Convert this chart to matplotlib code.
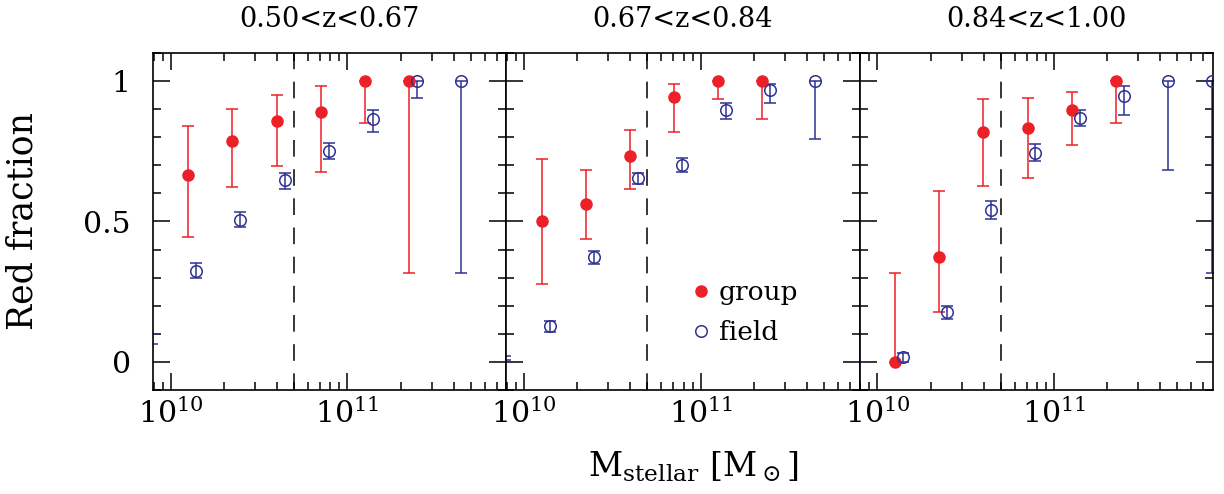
import numpy as np
import matplotlib
matplotlib.use('Agg')
from matplotlib import pyplot as plt
from matplotlib.ticker import MultipleLocator, NullFormatter, FixedLocator, FixedFormatter

plt.rcParams['font.family'] = ['DejaVu Serif']
plt.rcParams['mathtext.fontset'] = 'dejavuserif'
plt.rcParams['lines.scale_dashes'] = False

# redshift bins
z_labels = ['0.50<z<0.67', '0.67<z<0.84', '0.84<z<1.00']

# log10 stellar mass of the bins (group / field)
group_logm = [10.10, 10.35, 10.60, 10.85, 11.10, 11.35]
field_logm = [9.895, 10.145, 10.395, 10.645, 10.895, 11.145, 11.395, 11.645, 11.895]

# red fraction of group galaxies, with lower / upper error limits
group_frac = [
    [0.665, 0.786, 0.858, 0.891, 1.0, 1.0],
    [0.501, 0.564, 0.732, 0.942, 1.0, 1.0],
    [0.0, 0.375, 0.817, 0.834, 0.896, 1.0],
]
group_lo = [
    [0.445, 0.622, 0.699, 0.676, 0.849, 0.318],
    [0.279, 0.439, 0.616, 0.819, 0.935, 0.866],
    [0.0, 0.178, 0.626, 0.655, 0.771, 0.849],
]
group_hi = [
    [0.841, 0.899, 0.949, 0.981, 1.0, 1.0],
    [0.721, 0.683, 0.825, 0.989, 1.0, 1.0],
    [0.318, 0.609, 0.935, 0.940, 0.962, 1.0],
]

# red fraction of field galaxies (nan = empty bin)
field_frac = [
    [0.080, 0.324, 0.507, 0.647, 0.751, 0.864, 1.0, 1.0, np.nan],
    [0.014, 0.127, 0.372, 0.656, 0.700, 0.898, 0.967, 1.0, np.nan],
    [0.0, 0.018, 0.176, 0.541, 0.745, 0.870, 0.947, 1.0, 1.0],
]
field_lo = [
    [0.065, 0.298, 0.479, 0.616, 0.721, 0.817, 0.938, 0.318, np.nan],
    [0.006, 0.107, 0.348, 0.635, 0.675, 0.866, 0.923, 0.795, np.nan],
    [0.0, 0.0, 0.152, 0.508, 0.717, 0.840, 0.879, 0.683, 0.318],
]
field_hi = [
    [0.098, 0.352, 0.534, 0.674, 0.779, 0.898, 1.0, 1.0, np.nan],
    [0.021, 0.144, 0.395, 0.674, 0.726, 0.922, 0.989, 1.0, np.nan],
    [0.0, 0.033, 0.199, 0.574, 0.775, 0.898, 0.982, 1.0, 1.0],
]

mass_cut = 5e10
xmin, xmax = 10 ** 9.9, 10 ** 11.9

red = '#ec2127'
blue = '#2e3192'

fig, axs = plt.subplots(1, 3, figsize=(12.24, 4.94), dpi=100, sharey=True)
fig.subplots_adjust(left=153 / 1224, right=1213 / 1224, top=1 - 53 / 494, bottom=1 - 390 / 494, wspace=0)

for i, ax in enumerate(axs):
    gx = 10 ** np.array(group_logm)
    gy = np.array(group_frac[i])
    gerr = [gy - np.array(group_lo[i]), np.array(group_hi[i]) - gy]
    fx = 10 ** np.array(field_logm)
    fy = np.array(field_frac[i])
    ferr = [fy - np.array(field_lo[i]), np.array(field_hi[i]) - fy]

    ax.errorbar(gx, gy, yerr=gerr, fmt='none', ecolor=red, elinewidth=1.1, capsize=4, capthick=1.1, zorder=2)
    ax.errorbar(fx, fy, yerr=ferr, fmt='none', ecolor=blue, elinewidth=1.1, capsize=4.5, capthick=1.1, zorder=2)
    ax.plot(gx, gy, 'o', ms=8, color=red, mec=red, label='group', zorder=3)
    inside = fx >= xmin
    ax.plot(fx[inside], fy[inside], 'o', ms=8.3, mfc='none', mec=blue, mew=1.1, label='field', zorder=3)

    ax.axvline(mass_cut, color='k', lw=1.1, dashes=(12, 9), zorder=1)

    ax.set_xscale('log')
    ax.set_xlim(xmin, xmax)
    ax.set_ylim(-0.1, 1.1)
    ax.yaxis.set_major_locator(FixedLocator([0, 0.5, 1]))
    ax.yaxis.set_major_formatter(FixedFormatter(['0', '0.5', '1']))
    ax.yaxis.set_minor_locator(MultipleLocator(0.1))
    ax.xaxis.set_minor_formatter(NullFormatter())
    ax.tick_params(which='both', direction='in', top=True, right=True, width=1.1, labelsize=21.5)
    ax.tick_params(which='major', length=12)
    ax.tick_params(which='minor', length=6)
    ax.tick_params(axis='y', pad=16)
    ax.tick_params(axis='x', pad=6)
    for s in ax.spines.values():
        s.set_linewidth(1.2)
    ax.set_title(z_labels[i], fontsize=19.5, pad=19)

axs[1].legend(loc='center left', bbox_to_anchor=(0.535, 0.23), frameon=False, fontsize=19,
              handlelength=0.4, handletextpad=0.5, labelspacing=0.55, borderpad=0, borderaxespad=0,
              numpoints=1)

fig.text(23 / 1224, 1 - 221.5 / 494, 'Red fraction', rotation=90, ha='center', va='center', fontsize=25)
fig.text(693 / 1224, 17 / 494, r'M$_{\rm stellar}$ [M$_\odot$]', ha='center', va='baseline', fontsize=24)

fig.savefig('out.png', dpi=100)
plt.close(fig)
